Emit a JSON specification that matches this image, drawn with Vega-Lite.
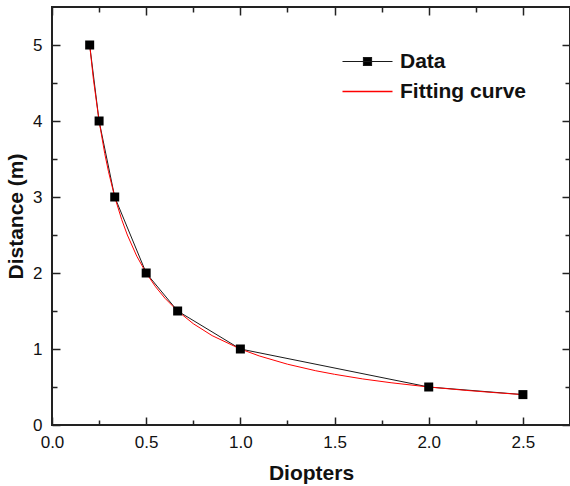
{
  "$schema": "https://vega.github.io/schema/vega-lite/v6.json",
  "width": 518,
  "height": 418,
  "autosize": {"type": "none"},
  "padding": {"left": 52, "top": 7, "right": 0, "bottom": 61},
  "background": "white",
  "config": {
    "font": "Liberation Sans",
    "view": {"stroke": "#222222", "strokeWidth": 2},
    "axis": {"grid": false, "domain": false, "tickColor": "#222222", "tickWidth": 1.5, "labelFont": "Liberation Sans", "labelFontSize": 17, "labelColor": "#111111", "titleFont": "Liberation Sans", "titleFontSize": 21, "titleFontWeight": "bold", "titleColor": "#111111", "labelFlush": false, "labelOverlap": false}
  },
  "data": {"values": [
    {"series": "Data", "x": 0.2, "y": 5},
    {"series": "Data", "x": 0.25, "y": 4},
    {"series": "Data", "x": 0.333, "y": 3},
    {"series": "Data", "x": 0.5, "y": 2},
    {"series": "Data", "x": 0.667, "y": 1.5},
    {"series": "Data", "x": 1.0, "y": 1},
    {"series": "Data", "x": 2.0, "y": 0.5},
    {"series": "Data", "x": 2.5, "y": 0.4},
    {"series": "Fitting curve", "x": 0.2, "y": 5.0},
    {"series": "Fitting curve", "x": 0.22, "y": 4.545},
    {"series": "Fitting curve", "x": 0.25, "y": 4.0},
    {"series": "Fitting curve", "x": 0.28, "y": 3.571},
    {"series": "Fitting curve", "x": 0.3, "y": 3.333},
    {"series": "Fitting curve", "x": 0.333, "y": 3.0},
    {"series": "Fitting curve", "x": 0.37, "y": 2.703},
    {"series": "Fitting curve", "x": 0.4, "y": 2.5},
    {"series": "Fitting curve", "x": 0.45, "y": 2.222},
    {"series": "Fitting curve", "x": 0.5, "y": 2.0},
    {"series": "Fitting curve", "x": 0.55, "y": 1.818},
    {"series": "Fitting curve", "x": 0.6, "y": 1.667},
    {"series": "Fitting curve", "x": 0.667, "y": 1.5},
    {"series": "Fitting curve", "x": 0.75, "y": 1.333},
    {"series": "Fitting curve", "x": 0.85, "y": 1.176},
    {"series": "Fitting curve", "x": 1.0, "y": 1.0},
    {"series": "Fitting curve", "x": 1.1, "y": 0.909},
    {"series": "Fitting curve", "x": 1.25, "y": 0.8},
    {"series": "Fitting curve", "x": 1.4, "y": 0.714},
    {"series": "Fitting curve", "x": 1.5, "y": 0.667},
    {"series": "Fitting curve", "x": 1.65, "y": 0.606},
    {"series": "Fitting curve", "x": 1.8, "y": 0.556},
    {"series": "Fitting curve", "x": 2.0, "y": 0.5},
    {"series": "Fitting curve", "x": 2.2, "y": 0.455},
    {"series": "Fitting curve", "x": 2.35, "y": 0.426},
    {"series": "Fitting curve", "x": 2.5, "y": 0.4}
  ]},
  "layer": [
    {
      "transform": [{"filter": "datum.series === 'Data'"}],
      "mark": {"type": "line", "strokeWidth": 1, "clip": true},
      "encoding": {
        "x": {"field": "x", "type": "quantitative", "scale": {"domain": [0, 2.75], "nice": false, "zero": false},
          "axis": {"orient": "bottom", "title": "Diopters", "values": [0, 0.25, 0.5, 0.75, 1, 1.25, 1.5, 1.75, 2, 2.25, 2.5],
            "labelExpr": "datum.value % 0.5 === 0 ? format(datum.value, '.1f') : ''",
            "tickSize": {"condition": {"test": "datum.value % 0.5 === 0", "value": -8}, "value": -5},
            "labelPadding": 17, "titlePadding": 9}},
        "y": {"field": "y", "type": "quantitative", "scale": {"domain": [0, 5.5], "nice": false, "zero": false},
          "axis": {"orient": "left", "title": "Distance (m)", "values": [0, 0.5, 1, 1.5, 2, 2.5, 3, 3.5, 4, 4.5, 5],
            "labelExpr": "datum.value % 1 === 0 ? format(datum.value, 'd') : ''",
            "tickSize": {"condition": {"test": "datum.value % 1 === 0", "value": -8}, "value": -5},
            "labelPadding": 18, "titlePadding": 6}},
        "color": {"field": "series", "type": "nominal",
          "scale": {"domain": ["Data", "Fitting curve"], "range": ["#1a1a1a", "#ff0000"]},
          "legend": {"title": null, "orient": "none", "legendX": 305, "legendY": 44, "symbolSize": 100,
            "symbolStrokeWidth": 1.2, "labelFont": "Liberation Sans", "labelFontSize": 21, "labelFontWeight": "bold", "labelColor": "#111111",
            "labelOffset": 22, "rowPadding": 8,
            "encode": {"symbols": {"update": {
              "shape": {"signal": "datum.label === 'Data' ? 'M-5,0L5,0M-0.8,-0.8L0.8,-0.8L0.8,0.8L-0.8,0.8Z' : 'M-5,0L5,0'"},
              "stroke": {"signal": "datum.label === 'Data' ? '#1a1a1a' : '#ff0000'"},
              "strokeWidth": {"signal": "datum.label === 'Data' ? 1.2 : 1.6"},
              "strokeOpacity": {"value": 1},
              "opacity": {"value": 1},
              "fill": {"signal": "datum.label === 'Data' ? '#000000' : 'transparent'"}}}}}}
      }
    },
    {
      "transform": [{"filter": "datum.series === 'Fitting curve'"}],
      "mark": {"type": "line", "strokeWidth": 1, "clip": true},
      "encoding": {
        "x": {"field": "x", "type": "quantitative", "scale": {"domain": [0, 2.75], "nice": false, "zero": false},
          "axis": {"orient": "top", "title": null, "labels": false, "values": [0, 0.25, 0.5, 0.75, 1, 1.25, 1.5, 1.75, 2, 2.25, 2.5],
            "tickSize": {"condition": {"test": "datum.value % 0.5 === 0", "value": -8}, "value": -5}}},
        "y": {"field": "y", "type": "quantitative", "scale": {"domain": [0, 5.5], "nice": false, "zero": false},
          "axis": {"orient": "right", "title": null, "labels": false, "values": [0, 0.5, 1, 1.5, 2, 2.5, 3, 3.5, 4, 4.5, 5],
            "tickSize": {"condition": {"test": "datum.value % 1 === 0", "value": -8}, "value": -5}}},
        "color": {"field": "series", "type": "nominal"}
      }
    },
    {
      "transform": [{"filter": "datum.series === 'Data'"}],
      "mark": {"type": "point", "shape": "square", "filled": true, "color": "#000000", "size": 81, "opacity": 1},
      "encoding": {
        "x": {"field": "x", "type": "quantitative", "axis": null},
        "y": {"field": "y", "type": "quantitative", "axis": null}
      }
    }
  ],
  "resolve": {"axis": {"x": "independent", "y": "independent"}}
}
